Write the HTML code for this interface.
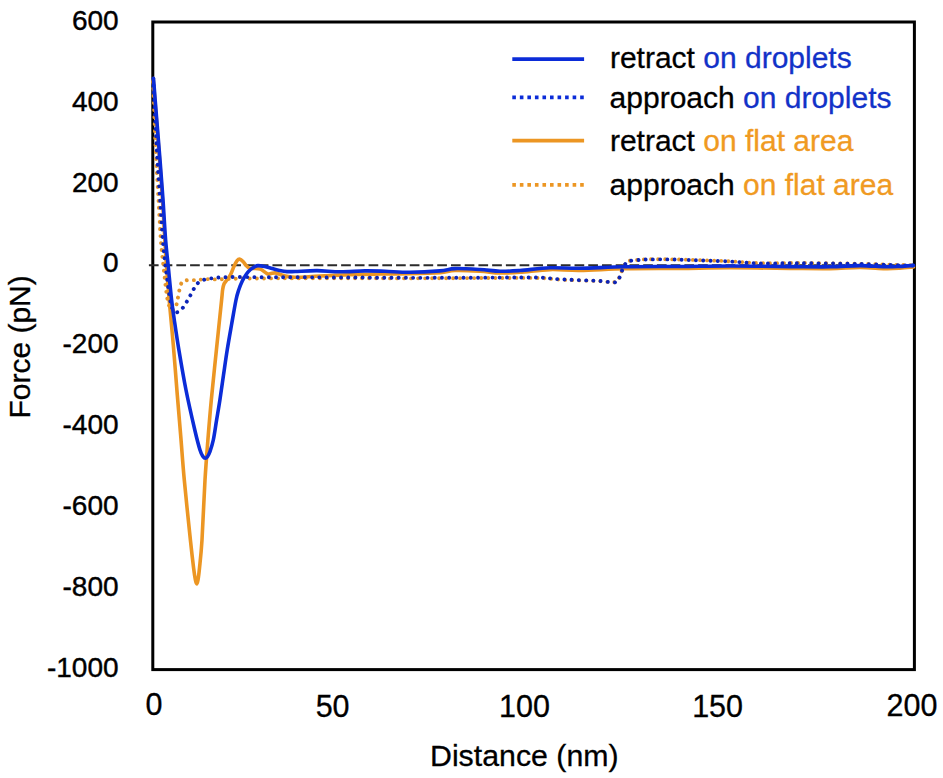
<!DOCTYPE html>
<html><head><meta charset="utf-8"><title>Force vs Distance</title>
<style>
html,body{margin:0;padding:0;background:#fff;}
body{width:943px;height:778px;overflow:hidden;}
svg{display:block;}
text{font-family:"Liberation Sans",sans-serif;fill:#000;stroke:#000;stroke-width:0.3px;}
.yt{font-size:28px;stroke-width:0.4px;text-anchor:end;}
.xt{font-size:30.5px;text-anchor:middle;}
.ttl{font-size:30px;}
.lg{font-size:30px;}
.bs{fill:none;stroke:#0b2cd8;stroke-width:3.6;stroke-linejoin:round;stroke-linecap:round;}
.os{fill:none;stroke:#ec9623;stroke-width:3.6;stroke-linejoin:round;stroke-linecap:round;}
.bd{fill:none;stroke:#0c24b8;stroke-width:3.9;stroke-linecap:round;stroke-dasharray:0.01 7.2;}
.od{fill:none;stroke:#e5962a;stroke-width:3.9;stroke-linecap:round;stroke-dasharray:0.01 7.0;stroke-dashoffset:3.5;}
</style></head>
<body>
<svg width="943" height="778" viewBox="0 0 943 778">
<rect x="0" y="0" width="943" height="778" fill="#fff"/>
<rect x="152.8" y="22" width="761.6" height="647.6" fill="none" stroke="#000" stroke-width="3"/>
<line x1="148.9" y1="265.3" x2="913" y2="265.3" stroke="#2b2b2b" stroke-width="2" stroke-dasharray="9.7 4.03"/>
<path d="M153.00,78.40C153.25,85.33 153.97,106.40 154.50,120.00C155.03,133.60 155.53,146.67 156.20,160.00C156.87,173.33 157.73,186.67 158.50,200.00C159.27,213.33 160.00,229.17 160.80,240.00C161.60,250.83 162.43,256.77 163.30,265.00C164.17,273.23 165.25,283.40 166.00,289.40C166.75,295.40 167.13,297.98 167.80,301.00C168.47,304.02 169.17,305.92 170.00,307.50C170.83,309.08 171.87,310.50 172.80,310.50C173.73,310.50 174.83,309.17 175.60,307.50C176.37,305.83 176.80,303.25 177.40,300.50C178.00,297.75 178.52,293.92 179.20,291.00C179.88,288.08 180.53,284.70 181.50,283.00C182.47,281.30 183.88,281.28 185.00,280.80C186.12,280.32 186.55,280.22 188.20,280.10C189.85,279.98 192.67,280.18 194.90,280.10C197.13,280.02 199.12,279.77 201.60,279.60C204.08,279.43 207.15,279.13 209.80,279.10C212.45,279.07 212.47,279.48 217.50,279.40C222.53,279.32 231.25,278.77 240.00,278.60C248.75,278.43 260.00,278.47 270.00,278.40C280.00,278.33 286.67,278.23 300.00,278.20C313.33,278.17 333.33,278.17 350.00,278.20C366.67,278.23 383.33,278.40 400.00,278.40C416.67,278.40 433.33,278.27 450.00,278.20C466.67,278.13 485.00,278.03 500.00,278.00C515.00,277.97 530.00,277.73 540.00,278.00C550.00,278.27 550.00,279.07 560.00,279.60C570.00,280.13 591.08,280.73 600.00,281.20C608.92,281.67 610.42,282.77 613.50,282.40C616.58,282.03 617.15,280.82 618.50,279.00C619.85,277.18 620.58,273.87 621.60,271.50C622.62,269.13 623.37,266.55 624.60,264.80C625.83,263.05 627.02,261.78 629.00,261.00C630.98,260.22 633.77,260.38 636.50,260.10C639.23,259.82 640.20,259.43 645.40,259.30C650.60,259.17 660.27,259.22 667.70,259.30C675.13,259.38 679.62,259.47 690.00,259.80C700.38,260.13 718.33,260.73 730.00,261.30C741.67,261.87 748.33,262.92 760.00,263.20C771.67,263.48 783.33,262.90 800.00,263.00C816.67,263.10 841.08,263.40 860.00,263.80C878.92,264.20 904.58,265.13 913.50,265.40" class="od"/>
<path d="M153.20,78.60C153.72,85.17 155.23,104.43 156.30,118.00C157.37,131.57 158.57,146.33 159.60,160.00C160.63,173.67 161.63,186.67 162.50,200.00C163.37,213.33 164.08,228.33 164.80,240.00C165.52,251.67 166.07,260.00 166.80,270.00C167.53,280.00 168.12,287.50 169.20,300.00C170.28,312.50 171.95,329.17 173.30,345.00C174.65,360.83 176.05,379.67 177.30,395.00C178.55,410.33 179.63,422.83 180.80,437.00C181.97,451.17 182.70,462.83 184.30,480.00C185.90,497.17 188.85,525.33 190.40,540.00C191.95,554.67 192.77,561.33 193.60,568.00C194.43,574.67 194.88,577.33 195.40,580.00C195.92,582.67 196.27,584.00 196.70,584.00C197.13,584.00 197.53,582.67 198.00,580.00C198.47,577.33 198.83,574.67 199.50,568.00C200.17,561.33 201.08,554.67 202.00,540.00C202.92,525.33 203.95,497.50 205.00,480.00C206.05,462.50 207.25,448.33 208.30,435.00C209.35,421.67 209.95,414.17 211.30,400.00C212.65,385.83 214.68,366.67 216.40,350.00C218.12,333.33 220.57,310.00 221.60,300.00C222.63,290.00 222.20,292.67 222.60,290.00C223.00,287.33 223.35,285.58 224.00,284.00C224.65,282.42 225.38,282.12 226.50,280.50C227.62,278.88 229.47,276.62 230.70,274.30C231.93,271.98 232.83,268.88 233.90,266.60C234.97,264.32 236.08,261.83 237.10,260.60C238.12,259.37 238.98,259.00 240.00,259.20C241.02,259.40 242.18,260.77 243.20,261.80C244.22,262.83 245.05,264.30 246.10,265.40C247.15,266.50 248.18,267.90 249.50,268.40C250.82,268.90 252.22,268.28 254.00,268.40C255.78,268.52 258.42,268.50 260.20,269.10C261.98,269.70 263.45,271.18 264.70,272.00C265.95,272.82 266.72,273.73 267.70,274.00C268.68,274.27 269.37,273.78 270.60,273.60C271.83,273.42 273.62,272.80 275.10,272.90C276.58,273.00 278.02,273.75 279.50,274.20C280.98,274.65 282.02,275.13 284.00,275.60C285.98,276.07 288.68,276.72 291.40,277.00C294.12,277.28 295.53,277.47 300.30,277.30C305.07,277.13 311.72,276.42 320.00,276.00C328.28,275.58 340.00,275.13 350.00,274.80C360.00,274.47 370.00,274.17 380.00,274.00C390.00,273.83 400.00,274.02 410.00,273.80C420.00,273.58 432.50,273.25 440.00,272.70C447.50,272.15 448.33,270.75 455.00,270.50C461.67,270.25 472.50,270.78 480.00,271.20C487.50,271.62 493.33,272.82 500.00,273.00C506.67,273.18 511.67,272.87 520.00,272.30C528.33,271.73 540.00,269.92 550.00,269.60C560.00,269.28 567.50,270.53 580.00,270.40C592.50,270.27 608.33,269.13 625.00,268.80C641.67,268.47 662.50,268.57 680.00,268.40C697.50,268.23 711.67,267.80 730.00,267.80C748.33,267.80 773.33,268.27 790.00,268.40C806.67,268.53 818.33,268.75 830.00,268.60C841.67,268.45 850.83,267.50 860.00,267.50C869.17,267.50 878.33,268.48 885.00,268.60C891.67,268.72 895.25,268.47 900.00,268.20C904.75,267.93 911.25,267.20 913.50,267.00" class="os"/>
<path d="M153.30,78.40C153.63,85.33 154.62,106.40 155.30,120.00C155.98,133.60 156.60,146.67 157.40,160.00C158.20,173.33 159.20,186.67 160.10,200.00C161.00,213.33 161.92,229.17 162.80,240.00C163.68,250.83 164.43,256.67 165.40,265.00C166.37,273.33 167.67,283.50 168.60,290.00C169.53,296.50 170.18,300.57 171.00,304.00C171.82,307.43 172.50,309.22 173.50,310.60C174.50,311.98 175.48,312.73 177.00,312.30C178.52,311.87 180.95,309.80 182.60,308.00C184.25,306.20 185.57,303.67 186.90,301.50C188.23,299.33 189.38,297.20 190.60,295.00C191.82,292.80 192.90,290.37 194.20,288.30C195.50,286.23 196.57,284.08 198.40,282.60C200.23,281.12 202.70,280.15 205.20,279.40C207.70,278.65 210.83,278.43 213.40,278.10C215.97,277.77 216.87,277.58 220.60,277.40C224.33,277.22 229.23,277.03 235.80,277.00C242.37,276.97 249.30,277.15 260.00,277.20C270.70,277.25 285.00,277.25 300.00,277.30C315.00,277.35 333.33,277.42 350.00,277.50C366.67,277.58 383.33,277.75 400.00,277.80C416.67,277.85 433.33,277.83 450.00,277.80C466.67,277.77 485.00,277.63 500.00,277.60C515.00,277.57 530.00,277.32 540.00,277.60C550.00,277.88 550.00,278.73 560.00,279.30C570.00,279.87 591.08,280.45 600.00,281.00C608.92,281.55 610.42,282.85 613.50,282.60C616.58,282.35 617.15,281.32 618.50,279.50C619.85,277.68 620.58,274.12 621.60,271.70C622.62,269.28 623.37,266.75 624.60,265.00C625.83,263.25 627.02,261.98 629.00,261.20C630.98,260.42 633.77,260.58 636.50,260.30C639.23,260.02 640.20,259.65 645.40,259.50C650.60,259.35 660.27,259.32 667.70,259.40C675.13,259.48 679.62,259.65 690.00,260.00C700.38,260.35 718.33,260.93 730.00,261.50C741.67,262.07 748.33,263.12 760.00,263.40C771.67,263.68 783.33,263.10 800.00,263.20C816.67,263.30 841.08,263.60 860.00,264.00C878.92,264.40 904.58,265.33 913.50,265.60" class="bd"/>
<path d="M153.50,78.60C154.02,85.17 155.52,104.43 156.60,118.00C157.68,131.57 158.93,146.33 160.00,160.00C161.07,173.67 162.07,186.67 163.00,200.00C163.93,213.33 164.75,229.17 165.60,240.00C166.45,250.83 167.10,255.00 168.10,265.00C169.10,275.00 170.57,290.83 171.60,300.00C172.63,309.17 173.08,311.67 174.30,320.00C175.52,328.33 176.95,338.33 178.90,350.00C180.85,361.67 183.35,376.67 186.00,390.00C188.65,403.33 192.47,420.00 194.80,430.00C197.13,440.00 198.63,445.58 200.00,450.00C201.37,454.42 202.12,455.12 203.00,456.50C203.88,457.88 204.53,458.30 205.30,458.30C206.07,458.30 206.85,457.55 207.60,456.50C208.35,455.45 208.85,454.75 209.80,452.00C210.75,449.25 212.17,445.33 213.30,440.00C214.43,434.67 215.50,426.67 216.60,420.00C217.70,413.33 218.75,407.50 219.90,400.00C221.05,392.50 222.28,383.33 223.50,375.00C224.72,366.67 225.87,358.33 227.20,350.00C228.53,341.67 230.03,333.33 231.50,325.00C232.97,316.67 234.80,305.83 236.00,300.00C237.20,294.17 237.65,293.17 238.70,290.00C239.75,286.83 241.00,283.67 242.30,281.00C243.60,278.33 245.13,275.92 246.50,274.00C247.87,272.08 249.17,270.70 250.50,269.50C251.83,268.30 253.25,267.45 254.50,266.80C255.75,266.15 256.30,265.63 258.00,265.60C259.70,265.57 262.35,266.12 264.70,266.60C267.05,267.08 269.63,267.87 272.10,268.50C274.57,269.13 277.02,269.88 279.50,270.40C281.98,270.92 284.42,271.42 287.00,271.60C289.58,271.78 290.00,271.67 295.00,271.50C300.00,271.33 309.50,270.55 317.00,270.60C324.50,270.65 332.00,271.75 340.00,271.80C348.00,271.85 357.50,270.98 365.00,270.90C372.50,270.82 377.50,271.07 385.00,271.30C392.50,271.53 400.83,272.37 410.00,272.30C419.17,272.23 432.50,271.52 440.00,270.90C447.50,270.28 448.33,268.83 455.00,268.60C461.67,268.37 472.50,269.05 480.00,269.50C487.50,269.95 493.33,271.13 500.00,271.30C506.67,271.47 511.67,271.08 520.00,270.50C528.33,269.92 540.00,268.17 550.00,267.80C560.00,267.43 567.50,268.47 580.00,268.30C592.50,268.13 608.33,267.10 625.00,266.80C641.67,266.50 662.50,266.63 680.00,266.50C697.50,266.37 711.67,265.98 730.00,266.00C748.33,266.02 773.33,266.47 790.00,266.60C806.67,266.73 818.33,266.97 830.00,266.80C841.67,266.63 850.83,265.60 860.00,265.60C869.17,265.60 878.33,266.67 885.00,266.80C891.67,266.93 895.25,266.63 900.00,266.40C904.75,266.17 911.25,265.57 913.50,265.40" class="bs"/>
<text x="118.6" y="29.60" class="yt">600</text>
<text x="118.6" y="110.55" class="yt">400</text>
<text x="118.6" y="191.50" class="yt">200</text>
<text x="118.6" y="272.45" class="yt">0</text>
<text x="118.6" y="353.40" class="yt">-200</text>
<text x="118.6" y="434.35" class="yt">-400</text>
<text x="118.6" y="515.30" class="yt">-600</text>
<text x="118.6" y="596.25" class="yt">-800</text>
<text x="118.6" y="677.20" class="yt">-1000</text>
<text x="153.90" y="715.40" class="xt">0</text>
<text x="332.60" y="716.70" class="xt">50</text>
<text x="524.50" y="717.20" class="xt">100</text>
<text x="717.60" y="717.40" class="xt">150</text>
<text x="912.00" y="716.20" class="xt">200</text>
<text x="430.0" y="765.8" class="ttl" style="font-size:30.3px">Distance (nm)</text>
<text transform="translate(29.6,418.6) rotate(-90)" class="ttl">Force (pN)</text>
<line x1="512.3" y1="59.2" x2="584.1" y2="59.2" stroke="#0b2cd8" stroke-width="3.8"/>
<line x1="512.3" y1="97.4" x2="586" y2="97.4" stroke="#0b2cd8" stroke-width="3.8" stroke-dasharray="3.6 3.94"/>
<line x1="512.3" y1="140.6" x2="584.1" y2="140.6" stroke="#ec9623" stroke-width="3.8"/>
<line x1="512.3" y1="184.9" x2="586" y2="184.9" stroke="#ec9623" stroke-width="3.8" stroke-dasharray="3.6 3.94"/>
<text x="609.9" y="68.4" class="lg">retract <tspan fill="#1232c8" stroke="#1232c8">on droplets</tspan></text>
<text x="609.6" y="108.0" class="lg">approach <tspan fill="#1232c8" stroke="#1232c8">on droplets</tspan></text>
<text x="609.9" y="150.8" class="lg">retract <tspan fill="#f09a22" stroke="#f09a22">on flat area</tspan></text>
<text x="609.6" y="194.8" class="lg">approach <tspan fill="#f09a22" stroke="#f09a22">on flat area</tspan></text>
</svg>
</body></html>
